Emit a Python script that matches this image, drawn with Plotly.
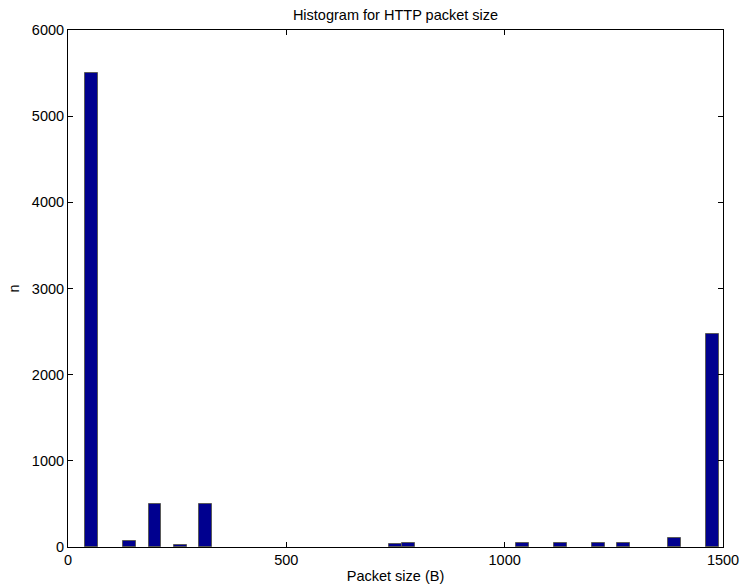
import plotly.graph_objects as go

# Histogram bins (bin width 29, starting at 40)
bin_centers = [54.5, 141.5, 199.5, 257.5, 315.5, 750.5, 779.5, 1040.5,
               1127.5, 1214.5, 1272.5, 1388.5, 1475.5]
counts = [5500, 70, 500, 20, 500, 30, 50, 50, 50, 50, 50, 100, 2470]
BIN_WIDTH = 29

x_ticks = [0, 500, 1000, 1500]
y_ticks = [0, 1000, 2000, 3000, 4000, 5000, 6000]

FONT = "Liberation Sans, Arial, Helvetica, sans-serif"
FS = 14.5

fig = go.Figure(go.Bar(
    x=bin_centers, y=counts, width=BIN_WIDTH,
    marker=dict(color="#00008F", line=dict(color="rgb(90,90,90)", width=1)),
))

axis_common = dict(
    showline=True, linecolor="black", linewidth=1, mirror="ticks",
    ticks="inside", ticklen=5, tickcolor="black", showgrid=False,
    zeroline=False, automargin=False,
    tickfont=dict(family=FONT, size=FS, color="black"),
)

fig.update_layout(
    width=740, height=587,
    margin=dict(l=68, r=17, t=30, b=40),
    paper_bgcolor="white", plot_bgcolor="white",
    showlegend=False,
    bargap=0,
    title=dict(text="Histogram for HTTP packet size", x=395.5 / 740, xanchor="center",
               y=1 - 14.5 / 587, yanchor="middle",
               font=dict(family=FONT, size=FS, color="black")),
    xaxis=dict(range=[0, 1500], tickvals=x_ticks, ticktext=[str(v) for v in x_ticks],
               title=dict(text="Packet size (B)", standoff=3,
                          font=dict(family=FONT, size=FS, color="black")),
               **axis_common),
    yaxis=dict(range=[0, 6000], tickvals=y_ticks, ticktext=[str(v) for v in y_ticks],
               title=dict(text="n", standoff=8,
                          font=dict(family=FONT, size=FS, color="black")),
               **axis_common),
)

fig.write_html("out.html")
